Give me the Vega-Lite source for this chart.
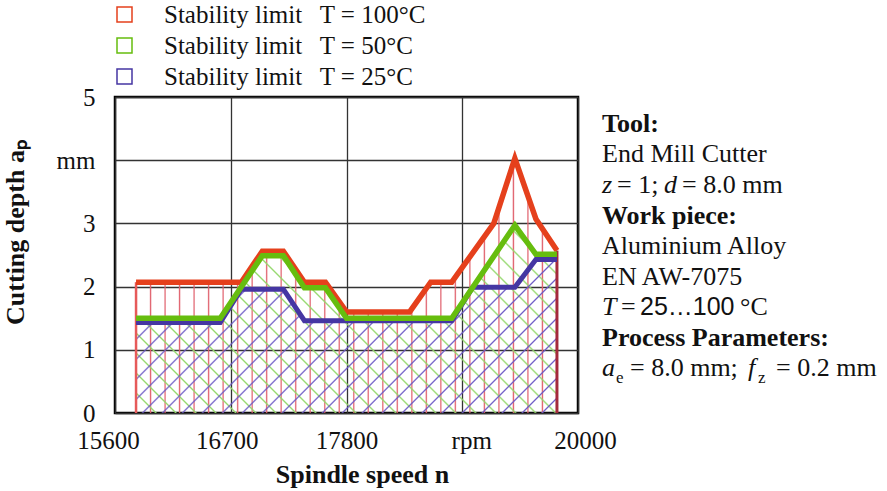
{
  "$schema": "https://vega.github.io/schema/vega-lite/v6.json",
  "padding": {"left": 0, "top": 0, "right": 0, "bottom": 0},
  "bounds": "flush",
  "spacing": 24,
  "config": {
    "font": "Liberation Serif",
    "view": {"stroke": "#000", "strokeWidth": 2.5},
    "axis": {
      "labelFont": "Liberation Serif", "labelFontSize": 25, "labelColor": "#111",
      "titleFont": "Liberation Serif", "titleFontSize": 26, "titleFontWeight": "bold", "titleColor": "#111",
      "gridColor": "#333", "gridWidth": 1.3, "gridOpacity": 1,
      "domain": false, "ticks": false, "tickSize": 0
    }
  },
  "datasets": {
    "limits": [
      {"T": 100, "n": 15800, "ap": 2.07}, {"T": 100, "n": 16800, "ap": 2.07}, {"T": 100, "n": 17000, "ap": 2.56},
      {"T": 100, "n": 17200, "ap": 2.56}, {"T": 100, "n": 17400, "ap": 2.07}, {"T": 100, "n": 17600, "ap": 2.07},
      {"T": 100, "n": 17800, "ap": 1.6}, {"T": 100, "n": 18400, "ap": 1.6}, {"T": 100, "n": 18600, "ap": 2.07},
      {"T": 100, "n": 18800, "ap": 2.07}, {"T": 100, "n": 19200, "ap": 3.0}, {"T": 100, "n": 19400, "ap": 4.03},
      {"T": 100, "n": 19600, "ap": 3.07}, {"T": 100, "n": 19800, "ap": 2.57},
      {"T": 50, "n": 15800, "ap": 1.5}, {"T": 50, "n": 16600, "ap": 1.5}, {"T": 50, "n": 17000, "ap": 2.49},
      {"T": 50, "n": 17200, "ap": 2.49}, {"T": 50, "n": 17400, "ap": 1.98}, {"T": 50, "n": 17600, "ap": 1.98},
      {"T": 50, "n": 17800, "ap": 1.5}, {"T": 50, "n": 18800, "ap": 1.5}, {"T": 50, "n": 19400, "ap": 2.97},
      {"T": 50, "n": 19600, "ap": 2.51}, {"T": 50, "n": 19800, "ap": 2.51},
      {"T": 25, "n": 15800, "ap": 1.43}, {"T": 25, "n": 16600, "ap": 1.43}, {"T": 25, "n": 16800, "ap": 1.96},
      {"T": 25, "n": 17200, "ap": 1.96}, {"T": 25, "n": 17400, "ap": 1.46}, {"T": 25, "n": 18800, "ap": 1.46},
      {"T": 25, "n": 19000, "ap": 1.99}, {"T": 25, "n": 19400, "ap": 1.99}, {"T": 25, "n": 19600, "ap": 2.43},
      {"T": 25, "n": 19800, "ap": 2.43}
    ],
    "notes": [
      {"line": 1, "part": "bold", "text": "Tool:"},
      {"line": 2, "part": "reg", "text": "End Mill Cutter"},
      {"line": 3, "part": "it0", "text": "z"},
      {"line": 3, "part": "l3a", "text": "= 1;"},
      {"line": 3, "part": "l3d", "text": "d"},
      {"line": 3, "part": "l3b", "text": "= 8.0 mm"},
      {"line": 4, "part": "bold", "text": "Work piece:"},
      {"line": 5, "part": "reg", "text": "Aluminium Alloy"},
      {"line": 6, "part": "reg", "text": "EN AW-7075"},
      {"line": 7, "part": "it0", "text": "T"},
      {"line": 7, "part": "l7eq", "text": "="},
      {"line": 7, "part": "l7num", "text": "25…100"},
      {"line": 7, "part": "l7unit", "text": "°C"},
      {"line": 8, "part": "bold", "text": "Process Parameters:"},
      {"line": 9, "part": "it0", "text": "a"},
      {"line": 9, "part": "l9e", "text": "e"},
      {"line": 9, "part": "l9b", "text": "= 8.0 mm;"},
      {"line": 9, "part": "l9f", "text": "f"},
      {"line": 9, "part": "l9z", "text": "z"},
      {"line": 9, "part": "l9c", "text": "= 0.2 mm"}
    ]
  },
  "resolve": {"scale": {"color": "independent"}, "legend": {"color": "independent"}},
  "hconcat": [
    {
      "width": 463,
      "height": 316,
      "data": {"name": "limits"},
      "encoding": {
        "x": {
          "field": "n", "type": "quantitative",
          "scale": {"domain": [15600, 20000], "nice": false, "zero": false},
          "axis": {
            "title": "Spindle speed n", "values": [15600, 16700, 17800, 18900, 20000], "format": "d",
            "labelExpr": "datum.value == 18900 ? 'rpm' : datum.label",
            "labelFont": "Liberation Serif", "titleFont": "Liberation Serif",
            "labelFlush": false, "labelPadding": 15, "titlePadding": 8, "titleX": 247,
            "labelOffset": {
              "condition": [
                {"test": "datum.value == 15600", "value": -7},
                {"test": "datum.value == 16700", "value": -4},
                {"test": "datum.value == 18900", "value": 9},
                {"test": "datum.value == 20000", "value": 7}
              ],
              "value": 0
            }
          }
        },
        "y": {
          "field": "ap", "type": "quantitative",
          "scale": {"domain": [0, 5], "nice": false},
          "axis": {
            "title": "Cutting depth aₚ", "values": [0, 1, 2, 3, 4, 5],
            "labelExpr": "datum.value == 4 ? 'mm' : datum.label",
            "labelFont": "Liberation Serif", "titleFont": "Liberation Serif",
            "labelPadding": 20, "titlePadding": 28, "titleY": 135
          }
        }
      },
      "layer": [
        {
          "transform": [{"filter": "datum.T == 100"}],
          "mark": {
            "type": "area",
            "fill": {
              "gradient": "linear", "x1": 0, "y1": 0, "x2": 1, "y2": 0,
              "stops": [
                {"offset": 0, "color": "#e0606c"}, {"offset": 0.003, "color": "#e0606c00"},
                {"offset": 0.0315, "color": "#e0606c00"}, {"offset": 0.0345, "color": "#e0606c"}, {"offset": 0.0375, "color": "#e0606c00"},
                {"offset": 0.066, "color": "#e0606c00"}, {"offset": 0.069, "color": "#e0606c"}, {"offset": 0.072, "color": "#e0606c00"},
                {"offset": 0.1004, "color": "#e0606c00"}, {"offset": 0.1034, "color": "#e0606c"}, {"offset": 0.1064, "color": "#e0606c00"},
                {"offset": 0.1349, "color": "#e0606c00"}, {"offset": 0.1379, "color": "#e0606c"}, {"offset": 0.1409, "color": "#e0606c00"},
                {"offset": 0.1694, "color": "#e0606c00"}, {"offset": 0.1724, "color": "#e0606c"}, {"offset": 0.1754, "color": "#e0606c00"},
                {"offset": 0.2039, "color": "#e0606c00"}, {"offset": 0.2069, "color": "#e0606c"}, {"offset": 0.2099, "color": "#e0606c00"},
                {"offset": 0.2384, "color": "#e0606c00"}, {"offset": 0.2414, "color": "#e0606c"}, {"offset": 0.2444, "color": "#e0606c00"},
                {"offset": 0.2729, "color": "#e0606c00"}, {"offset": 0.2759, "color": "#e0606c"}, {"offset": 0.2789, "color": "#e0606c00"},
                {"offset": 0.3073, "color": "#e0606c00"}, {"offset": 0.3103, "color": "#e0606c"}, {"offset": 0.3133, "color": "#e0606c00"},
                {"offset": 0.3418, "color": "#e0606c00"}, {"offset": 0.3448, "color": "#e0606c"}, {"offset": 0.3478, "color": "#e0606c00"},
                {"offset": 0.3763, "color": "#e0606c00"}, {"offset": 0.3793, "color": "#e0606c"}, {"offset": 0.3823, "color": "#e0606c00"},
                {"offset": 0.4108, "color": "#e0606c00"}, {"offset": 0.4138, "color": "#e0606c"}, {"offset": 0.4168, "color": "#e0606c00"},
                {"offset": 0.4453, "color": "#e0606c00"}, {"offset": 0.4483, "color": "#e0606c"}, {"offset": 0.4513, "color": "#e0606c00"},
                {"offset": 0.4798, "color": "#e0606c00"}, {"offset": 0.4828, "color": "#e0606c"}, {"offset": 0.4858, "color": "#e0606c00"},
                {"offset": 0.5142, "color": "#e0606c00"}, {"offset": 0.5172, "color": "#e0606c"}, {"offset": 0.5202, "color": "#e0606c00"},
                {"offset": 0.5487, "color": "#e0606c00"}, {"offset": 0.5517, "color": "#e0606c"}, {"offset": 0.5547, "color": "#e0606c00"},
                {"offset": 0.5832, "color": "#e0606c00"}, {"offset": 0.5862, "color": "#e0606c"}, {"offset": 0.5892, "color": "#e0606c00"},
                {"offset": 0.6177, "color": "#e0606c00"}, {"offset": 0.6207, "color": "#e0606c"}, {"offset": 0.6237, "color": "#e0606c00"},
                {"offset": 0.6522, "color": "#e0606c00"}, {"offset": 0.6552, "color": "#e0606c"}, {"offset": 0.6582, "color": "#e0606c00"},
                {"offset": 0.6867, "color": "#e0606c00"}, {"offset": 0.6897, "color": "#e0606c"}, {"offset": 0.6927, "color": "#e0606c00"},
                {"offset": 0.7211, "color": "#e0606c00"}, {"offset": 0.7241, "color": "#e0606c"}, {"offset": 0.7271, "color": "#e0606c00"},
                {"offset": 0.7556, "color": "#e0606c00"}, {"offset": 0.7586, "color": "#e0606c"}, {"offset": 0.7616, "color": "#e0606c00"},
                {"offset": 0.7901, "color": "#e0606c00"}, {"offset": 0.7931, "color": "#e0606c"}, {"offset": 0.7961, "color": "#e0606c00"},
                {"offset": 0.8246, "color": "#e0606c00"}, {"offset": 0.8276, "color": "#e0606c"}, {"offset": 0.8306, "color": "#e0606c00"},
                {"offset": 0.8591, "color": "#e0606c00"}, {"offset": 0.8621, "color": "#e0606c"}, {"offset": 0.8651, "color": "#e0606c00"},
                {"offset": 0.8936, "color": "#e0606c00"}, {"offset": 0.8966, "color": "#e0606c"}, {"offset": 0.8996, "color": "#e0606c00"},
                {"offset": 0.928, "color": "#e0606c00"}, {"offset": 0.931, "color": "#e0606c"}, {"offset": 0.934, "color": "#e0606c00"},
                {"offset": 0.9625, "color": "#e0606c00"}, {"offset": 0.9655, "color": "#e0606c"}, {"offset": 0.9685, "color": "#e0606c00"},
                {"offset": 0.997, "color": "#e0606c00"}, {"offset": 1, "color": "#e0606c"}
              ]
            }
          }
        },
        {
          "transform": [{"filter": "datum.T == 50"}],
          "mark": {
            "type": "area",
            "fill": {
              "gradient": "linear", "x1": 0, "y1": 1, "x2": 1.228, "y2": 0.4529,
              "stops": [
                {"offset": 0, "color": "#94d86c"}, {"offset": 0.003, "color": "#94d86c00"},
                {"offset": 0.0293, "color": "#94d86c00"}, {"offset": 0.0323, "color": "#94d86c"}, {"offset": 0.0353, "color": "#94d86c00"},
                {"offset": 0.0615, "color": "#94d86c00"}, {"offset": 0.0645, "color": "#94d86c"}, {"offset": 0.0675, "color": "#94d86c00"},
                {"offset": 0.0938, "color": "#94d86c00"}, {"offset": 0.0968, "color": "#94d86c"}, {"offset": 0.0998, "color": "#94d86c00"},
                {"offset": 0.126, "color": "#94d86c00"}, {"offset": 0.129, "color": "#94d86c"}, {"offset": 0.132, "color": "#94d86c00"},
                {"offset": 0.1583, "color": "#94d86c00"}, {"offset": 0.1613, "color": "#94d86c"}, {"offset": 0.1643, "color": "#94d86c00"},
                {"offset": 0.1905, "color": "#94d86c00"}, {"offset": 0.1935, "color": "#94d86c"}, {"offset": 0.1965, "color": "#94d86c00"},
                {"offset": 0.2228, "color": "#94d86c00"}, {"offset": 0.2258, "color": "#94d86c"}, {"offset": 0.2288, "color": "#94d86c00"},
                {"offset": 0.2551, "color": "#94d86c00"}, {"offset": 0.2581, "color": "#94d86c"}, {"offset": 0.2611, "color": "#94d86c00"},
                {"offset": 0.2873, "color": "#94d86c00"}, {"offset": 0.2903, "color": "#94d86c"}, {"offset": 0.2933, "color": "#94d86c00"},
                {"offset": 0.3196, "color": "#94d86c00"}, {"offset": 0.3226, "color": "#94d86c"}, {"offset": 0.3256, "color": "#94d86c00"},
                {"offset": 0.3518, "color": "#94d86c00"}, {"offset": 0.3548, "color": "#94d86c"}, {"offset": 0.3578, "color": "#94d86c00"},
                {"offset": 0.3841, "color": "#94d86c00"}, {"offset": 0.3871, "color": "#94d86c"}, {"offset": 0.3901, "color": "#94d86c00"},
                {"offset": 0.4164, "color": "#94d86c00"}, {"offset": 0.4194, "color": "#94d86c"}, {"offset": 0.4224, "color": "#94d86c00"},
                {"offset": 0.4486, "color": "#94d86c00"}, {"offset": 0.4516, "color": "#94d86c"}, {"offset": 0.4546, "color": "#94d86c00"},
                {"offset": 0.4809, "color": "#94d86c00"}, {"offset": 0.4839, "color": "#94d86c"}, {"offset": 0.4869, "color": "#94d86c00"},
                {"offset": 0.5131, "color": "#94d86c00"}, {"offset": 0.5161, "color": "#94d86c"}, {"offset": 0.5191, "color": "#94d86c00"},
                {"offset": 0.5454, "color": "#94d86c00"}, {"offset": 0.5484, "color": "#94d86c"}, {"offset": 0.5514, "color": "#94d86c00"},
                {"offset": 0.5776, "color": "#94d86c00"}, {"offset": 0.5806, "color": "#94d86c"}, {"offset": 0.5836, "color": "#94d86c00"},
                {"offset": 0.6099, "color": "#94d86c00"}, {"offset": 0.6129, "color": "#94d86c"}, {"offset": 0.6159, "color": "#94d86c00"},
                {"offset": 0.6422, "color": "#94d86c00"}, {"offset": 0.6452, "color": "#94d86c"}, {"offset": 0.6482, "color": "#94d86c00"},
                {"offset": 0.6744, "color": "#94d86c00"}, {"offset": 0.6774, "color": "#94d86c"}, {"offset": 0.6804, "color": "#94d86c00"},
                {"offset": 0.7067, "color": "#94d86c00"}, {"offset": 0.7097, "color": "#94d86c"}, {"offset": 0.7127, "color": "#94d86c00"},
                {"offset": 0.7389, "color": "#94d86c00"}, {"offset": 0.7419, "color": "#94d86c"}, {"offset": 0.7449, "color": "#94d86c00"},
                {"offset": 0.7712, "color": "#94d86c00"}, {"offset": 0.7742, "color": "#94d86c"}, {"offset": 0.7772, "color": "#94d86c00"},
                {"offset": 0.8035, "color": "#94d86c00"}, {"offset": 0.8065, "color": "#94d86c"}, {"offset": 0.8095, "color": "#94d86c00"},
                {"offset": 0.8357, "color": "#94d86c00"}, {"offset": 0.8387, "color": "#94d86c"}, {"offset": 0.8417, "color": "#94d86c00"},
                {"offset": 0.868, "color": "#94d86c00"}, {"offset": 0.871, "color": "#94d86c"}, {"offset": 0.874, "color": "#94d86c00"},
                {"offset": 0.9002, "color": "#94d86c00"}, {"offset": 0.9032, "color": "#94d86c"}, {"offset": 0.9062, "color": "#94d86c00"},
                {"offset": 0.9325, "color": "#94d86c00"}, {"offset": 0.9355, "color": "#94d86c"}, {"offset": 0.9385, "color": "#94d86c00"},
                {"offset": 0.9647, "color": "#94d86c00"}, {"offset": 0.9677, "color": "#94d86c"}, {"offset": 0.9707, "color": "#94d86c00"},
                {"offset": 0.997, "color": "#94d86c00"}, {"offset": 1, "color": "#94d86c"}
              ]
            }
          }
        },
        {
          "transform": [{"filter": "datum.T == 25"}],
          "mark": {
            "type": "area",
            "fill": {
              "gradient": "linear", "x1": 0, "y1": 0, "x2": 1.2152, "y2": 0.443,
              "stops": [
                {"offset": 0, "color": "#6a58c4"}, {"offset": 0.003, "color": "#6a58c400"},
                {"offset": 0.0315, "color": "#6a58c400"}, {"offset": 0.0345, "color": "#6a58c4"}, {"offset": 0.0375, "color": "#6a58c400"},
                {"offset": 0.066, "color": "#6a58c400"}, {"offset": 0.069, "color": "#6a58c4"}, {"offset": 0.072, "color": "#6a58c400"},
                {"offset": 0.1004, "color": "#6a58c400"}, {"offset": 0.1034, "color": "#6a58c4"}, {"offset": 0.1064, "color": "#6a58c400"},
                {"offset": 0.1349, "color": "#6a58c400"}, {"offset": 0.1379, "color": "#6a58c4"}, {"offset": 0.1409, "color": "#6a58c400"},
                {"offset": 0.1694, "color": "#6a58c400"}, {"offset": 0.1724, "color": "#6a58c4"}, {"offset": 0.1754, "color": "#6a58c400"},
                {"offset": 0.2039, "color": "#6a58c400"}, {"offset": 0.2069, "color": "#6a58c4"}, {"offset": 0.2099, "color": "#6a58c400"},
                {"offset": 0.2384, "color": "#6a58c400"}, {"offset": 0.2414, "color": "#6a58c4"}, {"offset": 0.2444, "color": "#6a58c400"},
                {"offset": 0.2729, "color": "#6a58c400"}, {"offset": 0.2759, "color": "#6a58c4"}, {"offset": 0.2789, "color": "#6a58c400"},
                {"offset": 0.3073, "color": "#6a58c400"}, {"offset": 0.3103, "color": "#6a58c4"}, {"offset": 0.3133, "color": "#6a58c400"},
                {"offset": 0.3418, "color": "#6a58c400"}, {"offset": 0.3448, "color": "#6a58c4"}, {"offset": 0.3478, "color": "#6a58c400"},
                {"offset": 0.3763, "color": "#6a58c400"}, {"offset": 0.3793, "color": "#6a58c4"}, {"offset": 0.3823, "color": "#6a58c400"},
                {"offset": 0.4108, "color": "#6a58c400"}, {"offset": 0.4138, "color": "#6a58c4"}, {"offset": 0.4168, "color": "#6a58c400"},
                {"offset": 0.4453, "color": "#6a58c400"}, {"offset": 0.4483, "color": "#6a58c4"}, {"offset": 0.4513, "color": "#6a58c400"},
                {"offset": 0.4798, "color": "#6a58c400"}, {"offset": 0.4828, "color": "#6a58c4"}, {"offset": 0.4858, "color": "#6a58c400"},
                {"offset": 0.5142, "color": "#6a58c400"}, {"offset": 0.5172, "color": "#6a58c4"}, {"offset": 0.5202, "color": "#6a58c400"},
                {"offset": 0.5487, "color": "#6a58c400"}, {"offset": 0.5517, "color": "#6a58c4"}, {"offset": 0.5547, "color": "#6a58c400"},
                {"offset": 0.5832, "color": "#6a58c400"}, {"offset": 0.5862, "color": "#6a58c4"}, {"offset": 0.5892, "color": "#6a58c400"},
                {"offset": 0.6177, "color": "#6a58c400"}, {"offset": 0.6207, "color": "#6a58c4"}, {"offset": 0.6237, "color": "#6a58c400"},
                {"offset": 0.6522, "color": "#6a58c400"}, {"offset": 0.6552, "color": "#6a58c4"}, {"offset": 0.6582, "color": "#6a58c400"},
                {"offset": 0.6867, "color": "#6a58c400"}, {"offset": 0.6897, "color": "#6a58c4"}, {"offset": 0.6927, "color": "#6a58c400"},
                {"offset": 0.7211, "color": "#6a58c400"}, {"offset": 0.7241, "color": "#6a58c4"}, {"offset": 0.7271, "color": "#6a58c400"},
                {"offset": 0.7556, "color": "#6a58c400"}, {"offset": 0.7586, "color": "#6a58c4"}, {"offset": 0.7616, "color": "#6a58c400"},
                {"offset": 0.7901, "color": "#6a58c400"}, {"offset": 0.7931, "color": "#6a58c4"}, {"offset": 0.7961, "color": "#6a58c400"},
                {"offset": 0.8246, "color": "#6a58c400"}, {"offset": 0.8276, "color": "#6a58c4"}, {"offset": 0.8306, "color": "#6a58c400"},
                {"offset": 0.8591, "color": "#6a58c400"}, {"offset": 0.8621, "color": "#6a58c4"}, {"offset": 0.8651, "color": "#6a58c400"},
                {"offset": 0.8936, "color": "#6a58c400"}, {"offset": 0.8966, "color": "#6a58c4"}, {"offset": 0.8996, "color": "#6a58c400"},
                {"offset": 0.928, "color": "#6a58c400"}, {"offset": 0.931, "color": "#6a58c4"}, {"offset": 0.934, "color": "#6a58c400"},
                {"offset": 0.9625, "color": "#6a58c400"}, {"offset": 0.9655, "color": "#6a58c4"}, {"offset": 0.9685, "color": "#6a58c400"},
                {"offset": 0.997, "color": "#6a58c400"}, {"offset": 1, "color": "#6a58c4"}
              ]
            }
          }
        },
        {
          "transform": [{"filter": "datum.T == 100 && datum.n == 15800"}],
          "mark": {"type": "rule", "color": "#e65a5a", "strokeWidth": 2.5},
          "encoding": {"y2": {"datum": 0}}
        },
        {
          "transform": [{"filter": "datum.T == 100 && datum.n == 19800"}],
          "mark": {"type": "rule", "color": "#a52a3c", "strokeWidth": 3},
          "encoding": {"y2": {"datum": 0}}
        },
        {
          "transform": [{"filter": "datum.T == 100"}],
          "mark": {"type": "line", "strokeWidth": 5.5, "strokeJoin": "miter", "strokeCap": "butt"},
          "encoding": {
            "color": {
              "field": "T", "type": "nominal",
              "scale": {"domain": [100, 50, 25], "range": ["#e5401c", "#66bd0e", "#4536a3"]},
              "legend": {
                "orient": "none", "legendX": -3, "legendY": -95, "title": null, "direction": "vertical",
                "symbolType": "square", "symbolSize": 225, "symbolStrokeWidth": 1.5,
                "labelFont": "Liberation Serif", "labelFontSize": 25, "labelColor": "#111",
                "labelOffset": 27, "rowPadding": 5, "padding": 0, "labelLimit": 400,
                "labelExpr": "'Stability limit\u2002\u2009T = ' + datum.label + '°C'"
              }
            }
          }
        },
        {
          "transform": [{"filter": "datum.T == 25"}],
          "mark": {"type": "line", "strokeWidth": 5, "strokeJoin": "miter", "strokeCap": "butt"},
          "encoding": {"color": {"field": "T", "type": "nominal"}}
        },
        {
          "transform": [{"filter": "datum.T == 50"}],
          "mark": {"type": "line", "strokeWidth": 5.5, "strokeJoin": "miter", "strokeCap": "butt"},
          "encoding": {"color": {"field": "T", "type": "nominal"}}
        }
      ]
    },
    {
      "width": 280,
      "height": 316,
      "view": {"stroke": null},
      "data": {"name": "notes"},
      "encoding": {
        "x": {"datum": 0, "type": "quantitative", "scale": {"domain": [0, 1]}, "axis": null},
        "y": {"field": "line", "type": "quantitative", "scale": {"domain": [-0.1475, 10.213], "reverse": true, "nice": false, "zero": false}, "axis": null},
        "text": {"field": "text"}
      },
      "layer": [
        {"transform": [{"filter": "datum.part == 'bold'"}], "mark": {"type": "text", "align": "left", "baseline": "alphabetic", "font": "Liberation Serif", "fontSize": 26, "fontWeight": "bold", "color": "#111"}},
        {"transform": [{"filter": "datum.part == 'reg'"}], "mark": {"type": "text", "align": "left", "baseline": "alphabetic", "font": "Liberation Serif", "fontSize": 26, "color": "#111"}},
        {"transform": [{"filter": "datum.part == 'it0'"}], "mark": {"type": "text", "align": "left", "baseline": "alphabetic", "font": "Liberation Serif", "fontSize": 26, "fontStyle": "italic", "color": "#111"}},
        {"transform": [{"filter": "datum.part == 'l3a'"}], "mark": {"type": "text", "align": "left", "baseline": "alphabetic", "font": "Liberation Serif", "fontSize": 26, "dx": 15, "color": "#111"}},
        {"transform": [{"filter": "datum.part == 'l3d'"}], "mark": {"type": "text", "align": "left", "baseline": "alphabetic", "font": "Liberation Serif", "fontSize": 26, "fontStyle": "italic", "dx": 62, "color": "#111"}},
        {"transform": [{"filter": "datum.part == 'l3b'"}], "mark": {"type": "text", "align": "left", "baseline": "alphabetic", "font": "Liberation Serif", "fontSize": 26, "dx": 80, "color": "#111"}},
        {"transform": [{"filter": "datum.part == 'l7eq'"}], "mark": {"type": "text", "align": "left", "baseline": "alphabetic", "font": "Liberation Serif", "fontSize": 26, "dx": 19, "color": "#111"}},
        {"transform": [{"filter": "datum.part == 'l7num'"}], "mark": {"type": "text", "align": "left", "baseline": "alphabetic", "font": "Liberation Sans", "fontSize": 25, "dx": 38, "color": "#111"}},
        {"transform": [{"filter": "datum.part == 'l7unit'"}], "mark": {"type": "text", "align": "left", "baseline": "alphabetic", "font": "Liberation Serif", "fontSize": 26, "dx": 138, "color": "#111"}},
        {"transform": [{"filter": "datum.part == 'l9e'"}], "mark": {"type": "text", "align": "left", "baseline": "alphabetic", "font": "Liberation Serif", "fontSize": 17, "dx": 14, "dy": 7, "color": "#111"}},
        {"transform": [{"filter": "datum.part == 'l9b'"}], "mark": {"type": "text", "align": "left", "baseline": "alphabetic", "font": "Liberation Serif", "fontSize": 26, "dx": 28, "color": "#111"}},
        {"transform": [{"filter": "datum.part == 'l9f'"}], "mark": {"type": "text", "align": "left", "baseline": "alphabetic", "font": "Liberation Serif", "fontSize": 26, "fontStyle": "italic", "dx": 146, "color": "#111"}},
        {"transform": [{"filter": "datum.part == 'l9z'"}], "mark": {"type": "text", "align": "left", "baseline": "alphabetic", "font": "Liberation Serif", "fontSize": 17, "dx": 156, "dy": 7, "color": "#111"}},
        {"transform": [{"filter": "datum.part == 'l9c'"}], "mark": {"type": "text", "align": "left", "baseline": "alphabetic", "font": "Liberation Serif", "fontSize": 26, "dx": 174, "color": "#111"}}
      ]
    }
  ]
}
